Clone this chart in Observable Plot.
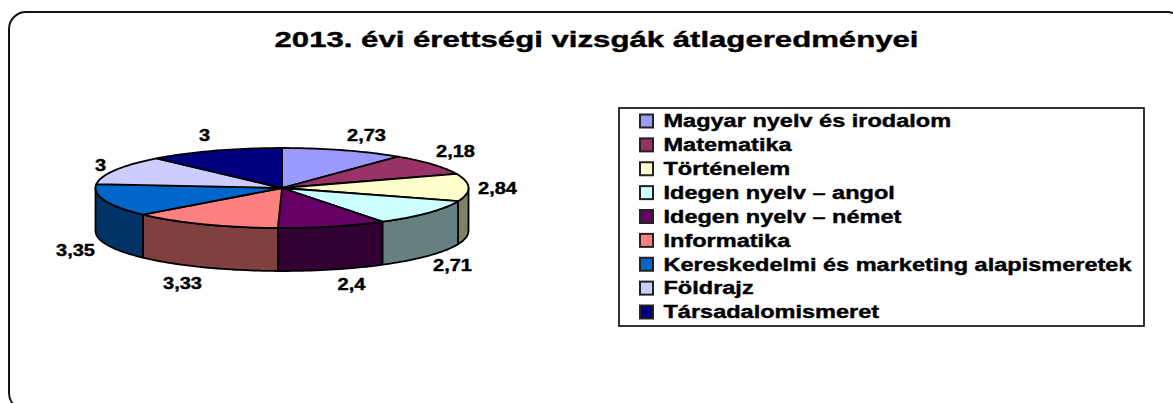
<!DOCTYPE html>
<html lang="hu">
<head>
<meta charset="utf-8">
<script src="https://cdn.jsdelivr.net/npm/d3@7"></script>
<script src="https://cdn.jsdelivr.net/npm/@observablehq/plot@0.6"></script>
<style>html,body{margin:0;padding:0;background:#fff;overflow:hidden}</style>
</head>
<body>
<div id="chart"></div>
<script>
const titleText = "2013. évi érettségi vizsgák átlageredményei";
const subjects = ["Magyar nyelv és irodalom","Matematika","Történelem","Idegen nyelv – angol","Idegen nyelv – német","Informatika","Kereskedelmi és marketing alapismeretek","Földrajz","Társadalomismeret"];
const scores = [2.73,2.18,2.84,2.71,2.4,3.33,3.35,3,3];
const topColors = ["#9999ff","#993366","#ffffcc","#ccffff","#660066","#ff8080","#0066cc","#ccccff","#000080"];
const sideColors = ["#4c4c80","#4c1a33","#808066","#668080","#330033","#804040","#003366","#666680","#000040"];

// layout (pixel units of the plot frame)
const labelX = [366,455,497,452,351,182,75,100,204];
const labelY = [135,151,188,265,284,283,250,165,135];
const pie = {cx:281.5, cy:187.5, rx:186.5, ry:40, depth:43};
const total = d3.sum(scores);
const deg = v => v / total * 360;
const px = a => pie.cx + pie.rx * Math.sin(a * Math.PI / 180);
const py = a => pie.cy - pie.ry * Math.cos(a * Math.PI / 180);

const tops = [], sides = [];
let cum = 0;
scores.forEach((v, i) => {
  const a0 = deg(cum), a1 = deg(cum + v);
  cum += v;
  const arc = (from, to, dy) => {
    const n = Math.max(2, Math.ceil((to - from) / 1.5));
    return d3.range(n + 1).map(k => {
      const a = from + (to - from) * k / n;
      return {x: px(a), y: py(a) + dy};
    });
  };
  const common = {subject: subjects[i]};
  [{x: pie.cx, y: pie.cy}, ...arc(a0, a1, 0), {x: pie.cx, y: pie.cy}]
    .forEach(p => tops.push({...p, ...common, color: topColors[i]}));
  const s0 = Math.max(a0, 90), s1 = Math.min(a1, 270);
  if (s1 > s0) {
    const ring = [...arc(s0, s1, 0), ...arc(s0, s1, pie.depth).reverse()];
    ring.push(ring[0]);
    ring.forEach(p => sides.push({...p, ...common, color: sideColors[i]}));
  }
});

const legendTop = 121, legendStep = 23.875;
const legendRows = subjects.map((s, i) => ({
  name: s, color: topColors[i], y: legendTop + i * legendStep
}));
const labels = scores.map((v, i) => ({
  text: String(v).replace(".", ","), x: labelX[i], y: labelY[i]
}));
const FONT = "Liberation Sans, Arial, sans-serif";
const heavy = {fontFamily: FONT, fontWeight: "bold", fill: "#000", stroke: "#000", strokeWidth: 0.4};

const chart = Plot.plot({
  width: 1173, height: 403,
  margin: 0,
  x: {domain: [0, 1173], axis: null},
  y: {domain: [403, 0], axis: null},
  color: {type: "identity"},
  style: {background: "#fff", overflow: "hidden"},
  marks: [
    Plot.rect([0], {x1: 9, x2: 1184, y1: 12, y2: 410, rx: 17, fill: "none", stroke: "#111", strokeWidth: 2}),
    Plot.text([titleText], {x: 596, y: 39, text: d => d, fontSize: 22, ...heavy}),
    Plot.line(sides, {x: "x", y: "y", z: "subject", fill: "color", stroke: "#000", strokeWidth: 1.8, strokeLinejoin: "round"}),
    Plot.line(tops, {x: "x", y: "y", z: "subject", fill: "color", stroke: "#000", strokeWidth: 1.8, strokeLinejoin: "round"}),
    Plot.text(labels, {x: "x", y: "y", text: "text", fontSize: 16, ...heavy}),
    Plot.rect([0], {x1: 619, x2: 1144, y1: 108, y2: 326, fill: "#fff", stroke: "#000", strokeWidth: 1.6}),
    Plot.rect(legendRows, {x1: () => 640, x2: () => 653, y1: d => d.y - 6.5, y2: d => d.y + 6.5, fill: "color", stroke: "#222", strokeWidth: 2}),
    Plot.text(legendRows, {x: () => 663, y: "y", text: "name", textAnchor: "start", fontSize: 18, ...heavy})
  ]
});
document.getElementById("chart").append(chart);

function stretch(strings, factorFor) {
  const nodes = Array.from(chart.querySelectorAll("text")).filter(n => strings.includes(n.textContent));
  const widths = nodes.map(n => n.getComputedTextLength());
  const f = factorFor(d3.max(widths));
  nodes.forEach((n, i) => {
    n.setAttribute("textLength", widths[i] * f);
    n.setAttribute("lengthAdjust", "spacingAndGlyphs");
  });
}
stretch([titleText], w => 644 / w);
stretch(labels.map(d => d.text), () => 1.25);
stretch(subjects, w => 468 / w);
</script>
</body>
</html>
